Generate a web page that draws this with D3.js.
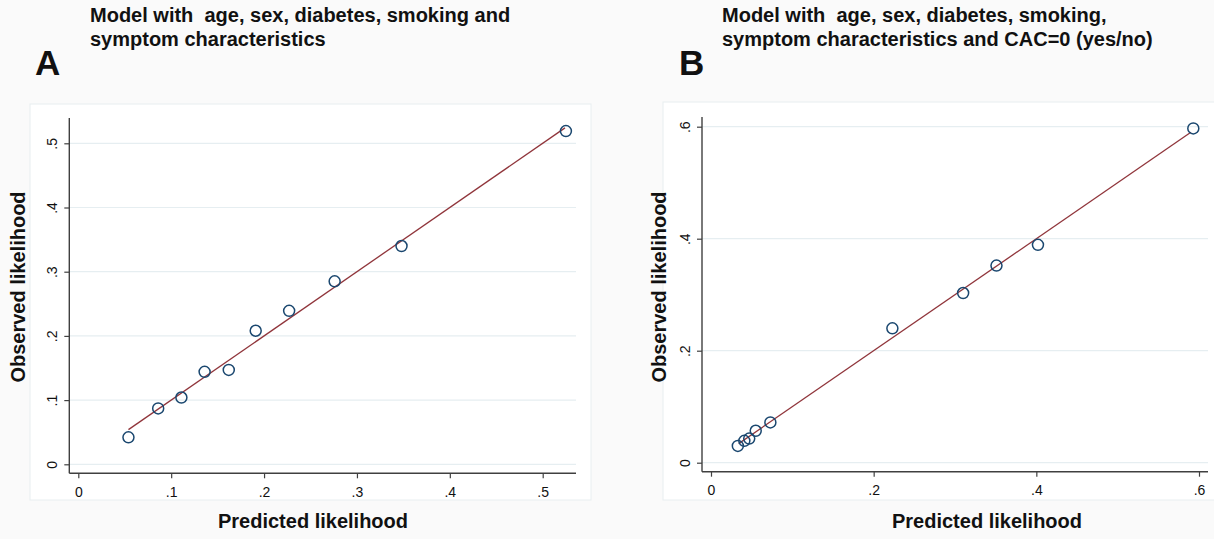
<!DOCTYPE html>
<html>
<head>
<meta charset="utf-8">
<script src="https://cdn.jsdelivr.net/npm/d3@7"></script>
<style>
  html, body { margin: 0; padding: 0; background: #fafafa; }
  svg { display: block; }
  text { font-family: "Liberation Sans", Arial, Helvetica, sans-serif; fill: #111; white-space: pre; }
</style>
</head>
<body>
<svg id="chart" width="1214" height="539"></svg>
<script>
// ---------------- data ----------------
const panelLetters = ["A", "B"];
const titleA = ["Model with  age, sex, diabetes, smoking and", "symptom characteristics"];
const titleB = ["Model with  age, sex, diabetes, smoking,", "symptom characteristics and CAC=0 (yes/no)"];
const xAxisTitle = "Predicted likelihood";
const yAxisTitle = "Observed likelihood";

const predictedA = [0.054, 0.086, 0.111, 0.136, 0.162, 0.191, 0.227, 0.276, 0.348, 0.525];
const observedA  = [0.042, 0.087, 0.104, 0.144, 0.147, 0.208, 0.239, 0.285, 0.340, 0.519];
const referenceA = [0.054, 0.524];           // 45-degree line, x = y
const xTicksA = [0, 0.1, 0.2, 0.3, 0.4, 0.5];
const xTickLabelsA = ["0", ".1", ".2", ".3", ".4", ".5"];
const yTicksA = [0, 0.1, 0.2, 0.3, 0.4, 0.5];
const yTickLabelsA = ["0", ".1", ".2", ".3", ".4", ".5"];

const predictedB = [0.033, 0.041, 0.047, 0.055, 0.073, 0.223, 0.310, 0.351, 0.402, 0.593];
const observedB  = [0.030, 0.039, 0.043, 0.057, 0.072, 0.240, 0.303, 0.352, 0.389, 0.597];
const referenceB = [0.034, 0.590];
const xTicksB = [0, 0.2, 0.4, 0.6];
const xTickLabelsB = ["0", ".2", ".4", ".6"];
const yTicksB = [0, 0.2, 0.4, 0.6];
const yTickLabelsB = ["0", ".2", ".4", ".6"];

// ---------------- layout ----------------
const svg = d3.select("#chart");
const COL_GRID = "#e6eef1";
const COL_AXIS = "#404040";
const COL_MARK = "#1a476f";
const COL_LINE = "#90353b";

function panel(cfg) {
  const g = svg.append("g");
  // graph region frame
  g.append("rect")
    .attr("x", cfg.frame[0]).attr("y", cfg.frame[1])
    .attr("width", cfg.frame[2] - cfg.frame[0]).attr("height", cfg.frame[3] - cfg.frame[1])
    .attr("fill", "#ffffff").attr("stroke", "#e8eef0").attr("stroke-width", 1);

  const x = d3.scaleLinear().domain(cfg.xDomain).range(cfg.xRange);
  const y = d3.scaleLinear().domain(cfg.yDomain).range(cfg.yRange);

  // gridlines
  g.append("g").selectAll("line").data(cfg.yTicks).join("line")
    .attr("x1", cfg.axisX).attr("x2", cfg.axisRight)
    .attr("y1", d => y(d)).attr("y2", d => y(d))
    .attr("stroke", COL_GRID).attr("stroke-width", 1.2);

  // y axis
  const yAxis = d3.axisLeft(y).tickValues(cfg.yTicks)
    .tickFormat((d, i) => cfg.yTickLabels[i]).tickSize(5).tickSizeOuter(0).tickPadding(7);
  const gy = g.append("g").attr("transform", `translate(${cfg.axisX},0)`).call(yAxis);
  gy.select(".domain").attr("d", `M0,${cfg.axisTop}V${cfg.axisY}`);
  gy.selectAll(".tick text")
    .attr("transform", "rotate(-90)")
    .attr("x", 0).attr("y", -12)
    .attr("dy", 0)
    .attr("text-anchor", "middle");
  // x axis
  const xAxis = d3.axisBottom(x).tickValues(cfg.xTicks)
    .tickFormat((d, i) => cfg.xTickLabels[i]).tickSize(5).tickSizeOuter(0).tickPadding(5);
  const gx = g.append("g").attr("transform", `translate(0,${cfg.axisY})`).call(xAxis);
  gx.select(".domain").attr("d", `M${cfg.axisX},0H${cfg.axisRight}`);
  [gx, gy].forEach(a => {
    a.select(".domain").attr("stroke", COL_AXIS).attr("stroke-width", 1.4);
    a.selectAll(".tick line").attr("stroke", COL_AXIS).attr("stroke-width", 1.2);
    a.selectAll(".tick text").style("font-size", "14px").style("font-family", "'Liberation Sans', Arial, sans-serif").attr("fill", "#111");
  });
  gx.selectAll(".tick text").attr("dy", "0.95em");

  // reference line
  g.append("line")
    .attr("x1", x(cfg.ref[0])).attr("y1", y(cfg.ref[0]))
    .attr("x2", x(cfg.ref[1])).attr("y2", y(cfg.ref[1]))
    .attr("stroke", COL_LINE).attr("stroke-width", 1.3);

  // markers
  g.append("g").selectAll("circle").data(cfg.px.map((v, i) => [v, cfg.py[i]])).join("circle")
    .attr("cx", d => x(d[0])).attr("cy", d => y(d[1])).attr("r", 5.5)
    .attr("fill", "none").attr("stroke", COL_MARK).attr("stroke-width", 1.5);

  // axis titles
  g.append("text").attr("x", cfg.xTitleX).attr("y", 528)
    .attr("text-anchor", "middle").style("font-size", "20px").style("font-weight", "bold")
    .text(xAxisTitle);
  g.append("text").attr("transform", `translate(${cfg.yTitleX},${cfg.yTitleY}) rotate(-90)`)
    .attr("text-anchor", "middle").style("font-size", "20px").style("font-weight", "bold")
    .text(yAxisTitle);

  // panel title
  g.append("g").selectAll("text").data(cfg.title).join("text")
    .attr("x", cfg.titleX).attr("y", (d, i) => 22 + i * 24)
    .attr("xml:space", "preserve")
    .style("font-size", "20px").style("font-weight", "bold")
    .text(d => d);
  g.append("text").attr("x", cfg.letterX).attr("y", 75)
    .style("font-size", "35px").style("font-weight", "bold")
    .text(cfg.letter);
}

panel({
  frame: [30, 104, 591, 500],
  xDomain: [0, 0.5], xRange: [78.3, 542.7],
  yDomain: [0, 0.5], yRange: [464.3, 143.3],
  axisX: 69.3, axisY: 473.3, axisTop: 118, axisRight: 576,
  xTicks: xTicksA, xTickLabels: xTickLabelsA, yTicks: yTicksA, yTickLabels: yTickLabelsA,
  px: predictedA, py: observedA, ref: referenceA,
  xTitleX: 313, yTitleX: 25, yTitleY: 287,
  title: titleA, titleX: 90, letter: panelLetters[0], letterX: 35
});
panel({
  frame: [663, 102, 1214.5, 500],
  xDomain: [0, 0.6], xRange: [711, 1199],
  yDomain: [0, 0.6], yRange: [462.7, 126.7],
  axisX: 702, axisY: 471.7, axisTop: 117, axisRight: 1208,
  xTicks: xTicksB, xTickLabels: xTickLabelsB, yTicks: yTicksB, yTickLabels: yTickLabelsB,
  px: predictedB, py: observedB, ref: referenceB,
  xTitleX: 987, yTitleX: 666, yTitleY: 287,
  title: titleB, titleX: 722, letter: panelLetters[1], letterX: 679
});
</script>
</body>
</html>
